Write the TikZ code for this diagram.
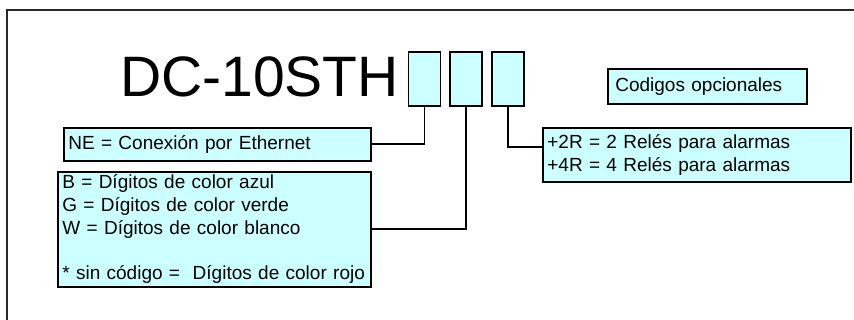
\documentclass[tikz,border=0pt]{standalone}
\usepackage{fontspec}
\setmainfont{Liberation Sans}
\usetikzlibrary{positioning}
\definecolor{notecyan}{RGB}{204,255,255}
\definecolor{framegray}{RGB}{40,40,40}
\tikzset{
  codebox/.style={rectangle,draw=black,fill=notecyan,line width=1.7pt,
                  minimum width=32pt,minimum height=54pt,inner sep=0pt},
  note/.style={rectangle,draw=black,fill=notecyan,line width=1.7pt,
               align=left,anchor=north west,inner xsep=4.5pt,inner ysep=0pt,
               font=\fontsize{19}{22.75}\selectfont},
  link/.style={line width=1.7pt},
  model/.style={font=\fontsize{57}{57}\selectfont,inner sep=0pt},
  frame/.style={draw=framegray,line width=1.8pt},
}

\begin{document}
\begin{tikzpicture}[x=1pt,y=-1pt]
  \useasboundingbox (0,0) rectangle (854,320);
  % outer frame, its right and bottom sides fall outside the page
  \draw[frame] (7,10) rectangle (880,340);

  % the three option boxes after the model name
  \node[codebox] (optNet) at (424.5,79) {};
  \node[codebox] (optColor) [right=8pt of optNet] {};
  \node[codebox] (optRelay) [right=8pt of optColor] {};
  \node[model,anchor=base east] (modelName) at (399,96.5) {DC-10STH};

  \node[note,text width=184pt,minimum height=35pt,inner xsep=7.5pt]
      (optLegend) at (607,68) {Codigos opcionales};

  \node[note,text width=298pt,minimum height=33pt]
      (netNote) at (63,127) {NE = Conexión por Ethernet};
  \node[note,text width=304pt,minimum height=115pt]
      (colorNote) at (57,171)
      {B = Dígitos de color azul\\
       G = Dígitos de color verde\\
       W = Dígitos de color blanco\\[22.75pt]
       {}* sin código =\ \ Dígitos de color rojo};
  \node[note,text width=299pt,minimum height=54pt]
      (relayNote) at (542,127)
      {+2R = 2 Relés para alarmas\\
       +4R = 4 Relés para alarmas};

  \draw[link] (optNet.south) |- (netNote.east);
  \draw[link] (optColor.south) |- (colorNote.east);
  \draw[link] (optRelay.south) |- ([yshift=8pt]relayNote.west);
\end{tikzpicture}
\end{document}
